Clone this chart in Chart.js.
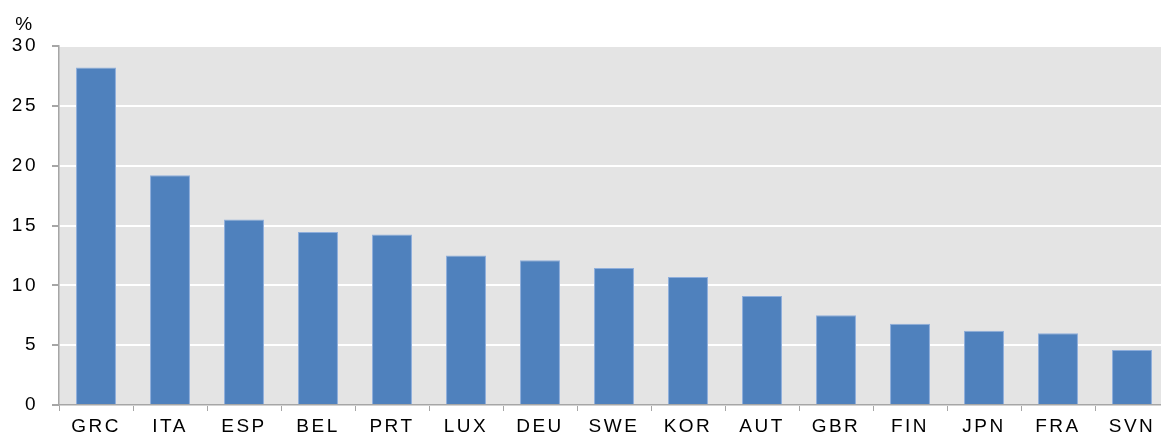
<!DOCTYPE html>
<html>
<head>
<meta charset="utf-8">
<script src="https://cdn.jsdelivr.net/npm/chart.js@4"></script>
<style>
  html, body { margin: 0; padding: 0; background: #fff; overflow: hidden; }
  #wrap { width: 1169px; height: 432px; }
</style>
</head>
<body>
<div id="wrap"><canvas id="barChart"></canvas></div>
<script>
// data
const countries = ['GRC', 'ITA', 'ESP', 'BEL', 'PRT', 'LUX', 'DEU', 'SWE', 'KOR', 'AUT', 'GBR', 'FIN', 'JPN', 'FRA', 'SVN'];
const shares = [28.2, 19.2, 15.5, 14.45, 14.25, 12.5, 12.1, 11.45, 10.7, 9.1, 7.5, 6.8, 6.2, 6.0, 4.6];
const yTicks = [0, 5, 10, 15, 20, 25, 30];
const unitLabel = '%';

const axisGrey = '#a6a6a6';
const font = { family: 'Arial, "Liberation Sans", sans-serif', size: 19 };
const spacing = '2.5px'; // the original type is drawn wide

// grey plot background + unit label
const plotBg = {
    id: 'plotBg',
    beforeLayout(chart) { chart.ctx.letterSpacing = spacing; },
    beforeDraw(chart) {
        const { ctx, chartArea: a } = chart;
        ctx.letterSpacing = spacing;
        ctx.save();
        ctx.fillStyle = '#e4e4e4';
        ctx.fillRect(a.left, a.top, a.right - a.left, a.bottom - a.top);
        ctx.restore();
    },
    afterDraw(chart) {
        const ctx = chart.ctx;
        ctx.save();
        ctx.fillStyle = '#000';
        ctx.font = font.size + 'px ' + font.family;
        ctx.textAlign = 'center';
        ctx.textBaseline = 'middle';
        ctx.fillText(unitLabel, 25, 25);
        ctx.restore();
    }
};

const ctx = document.getElementById('barChart').getContext('2d');
const barChart = new Chart(ctx, {
    type: 'bar',
    data: {
        labels: countries,
        datasets: [{
            data: shares,
            backgroundColor: '#4f81bd',
            borderColor: '#8eaedb',
            borderWidth: 1,
            barPercentage: 0.54,
            categoryPercentage: 1
        }]
    },
    options: {
        responsive: true,
        maintainAspectRatio: false,
        animation: false,
        layout: { padding: { top: 46, right: 0, bottom: 0, left: 0 } },
        plugins: { legend: { display: false }, tooltip: { enabled: false } },
        scales: {
            x: {
                grid: { offset: true, drawOnChartArea: false, tickColor: axisGrey, tickLength: 6 },
                border: { color: axisGrey, width: 1.5 },
                ticks: { color: '#000', font: font, padding: 4, maxRotation: 0 },
                afterFit(scale) { scale.height = 27; }
            },
            y: {
                min: 0,
                max: 30,
                afterBuildTicks(scale) { scale.ticks = yTicks.map(v => ({ value: v })); },
                grid: { color: '#ffffff', lineWidth: 2, tickColor: axisGrey, tickLength: 7 },
                border: { color: axisGrey, width: 1.5 },
                ticks: { color: '#000', font: font, padding: 14 },
                afterFit(scale) { scale.width = 59; }
            }
        }
    },
    plugins: [plotBg]
});
</script>
</body>
</html>
